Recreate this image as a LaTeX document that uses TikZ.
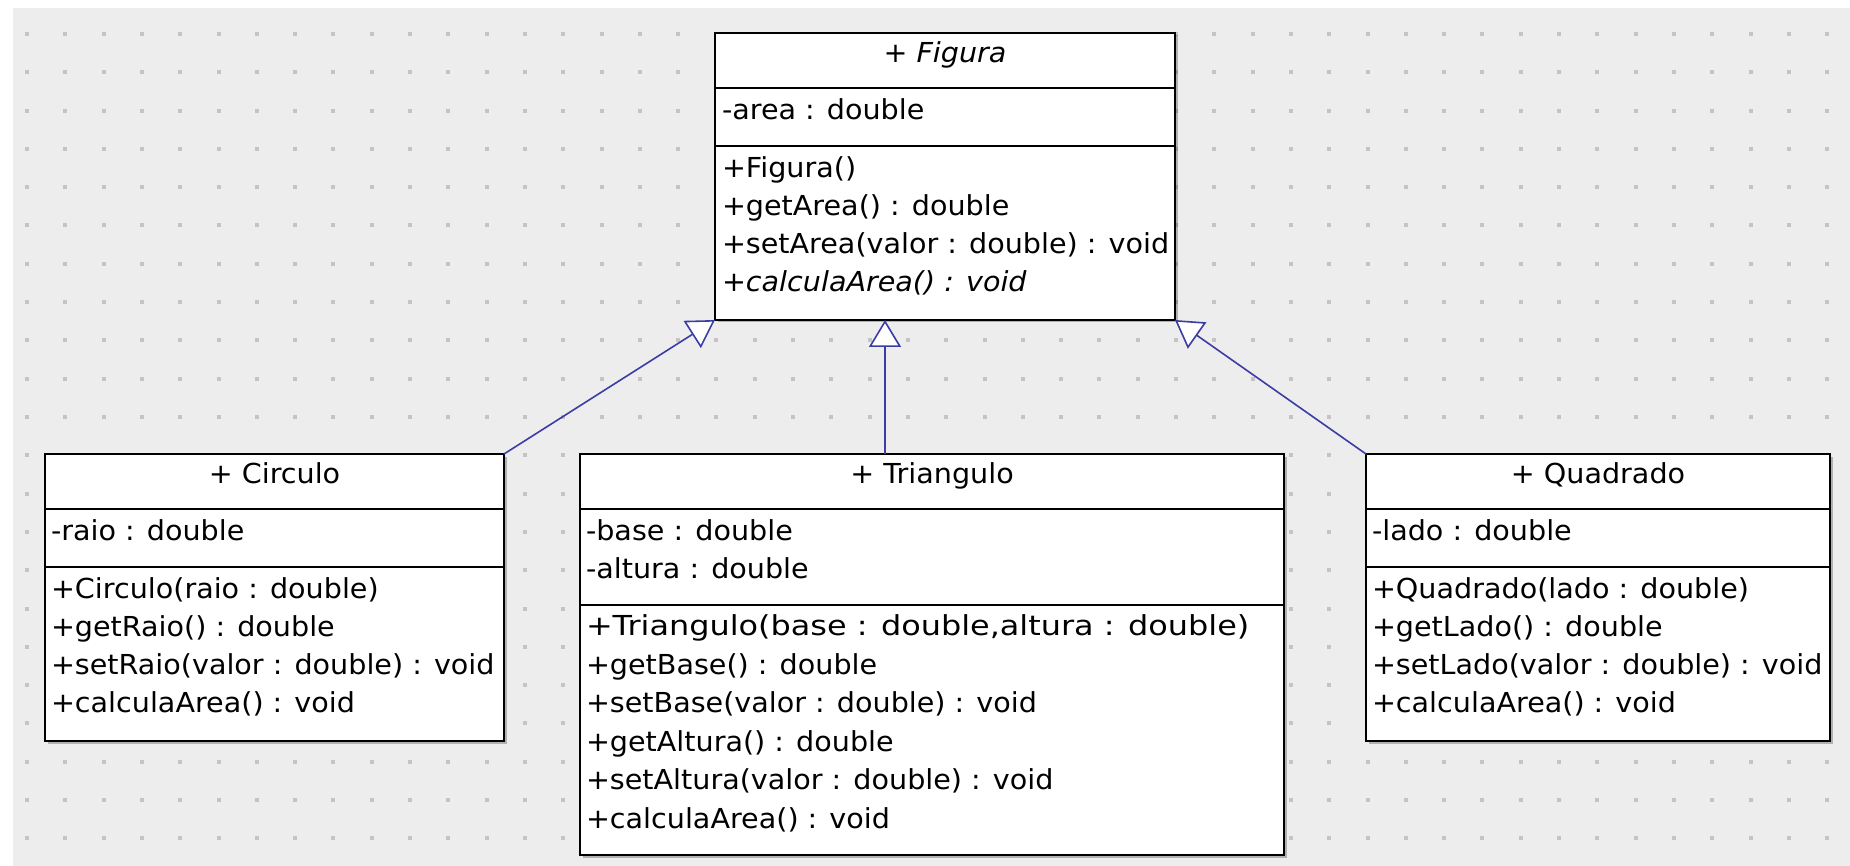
\documentclass[tikz,border=0pt]{standalone}
\usepackage{fontspec}
\setmainfont{DejaVu Sans}
% class member font, slightly widened
\newfontfamily\umlfont[FakeStretch=1.04]{DejaVu Sans}
% the long constructor signature is set more loosely
\newfontfamily\umlwidefont[FakeStretch=1.16]{DejaVu Sans}
\usetikzlibrary{arrows.meta,shadows}

\definecolor{canvas}{HTML}{EDEDED}
\definecolor{griddot}{HTML}{C4C4C4}
\definecolor{inherit}{RGB}{60,60,165}

\tikzset{
  classbox/.style={draw=black, line width=2pt, fill=white, inner sep=0pt, outer sep=0pt,
    drop shadow={shadow xshift=2.5pt, shadow yshift=-2.5pt, fill=black, opacity=0.25}},
  compsep/.style={draw=black, line width=2pt},
  member/.style={anchor=base west, inner sep=0pt, outer sep=0pt},
  classname/.style={anchor=base, inner sep=0pt, outer sep=0pt},
  generalization/.style={draw=inherit, line width=1.6pt,
    -{Triangle[length=27pt, width=32pt, fill=white, line width=1.6pt]}},
}

\begin{document}
\begin{tikzpicture}[x=1pt, y={(0pt,-1pt)}, font={\umlfont\fontsize{27.5}{33}\selectfont}]
\useasboundingbox (0,0) rectangle (1850,866);
\fill[white] (0,0) rectangle (1850,866);
% drawing canvas with its dot grid
\fill[canvas] (13,8) rectangle (1850,866);
\foreach \i in {0,...,47}
  \foreach \j in {0,...,21}
    \fill[griddot] ({25+38.3*\i},{32+38.3*\j}) rectangle ++(4,4);

% ---------- Figura (abstract) ----------
\node[classbox, minimum width=460pt, minimum height=287pt] (fig) at (945,176.5) {};
\draw[compsep] (fig.west |- 0,88) -- (fig.east |- 0,88);
\draw[compsep] (fig.west |- 0,146) -- (fig.east |- 0,146);
\node[classname] (fig-name) at (945,63) {\itshape + Figura};
\node[member] (fig-a1) at (722,120) {-area : double};
\node[member] (fig-m1) at (722,178) {+Figura()};
\node[member] (fig-m2) at (722,216) {+getArea() : double};
\node[member] (fig-m3) at (722,254) {+setArea(valor : double) : void};
\node[member] (fig-m4) at (722,292) {\itshape +calculaArea() : void};

% ---------- Circulo ----------
\node[classbox, minimum width=459pt, minimum height=287pt] (cir) at (274.5,597.5) {};
\draw[compsep] (cir.west |- 0,509) -- (cir.east |- 0,509);
\draw[compsep] (cir.west |- 0,567) -- (cir.east |- 0,567);
\node[classname] (cir-name) at (274.5,483) {+ Circulo};
\node[member] (cir-a1) at (51,540) {-raio : double};
\node[member] (cir-m1) at (51,598) {+Circulo(raio : double)};
\node[member] (cir-m2) at (51,636) {+getRaio() : double};
\node[member] (cir-m3) at (51,674) {+setRaio(valor : double) : void};
\node[member] (cir-m4) at (51,712) {+calculaArea() : void};

% ---------- Triangulo ----------
\node[classbox, minimum width=704pt, minimum height=401pt] (tri) at (932,654.5) {};
\draw[compsep] (tri.west |- 0,509) -- (tri.east |- 0,509);
\draw[compsep] (tri.west |- 0,605) -- (tri.east |- 0,605);
\node[classname] (tri-name) at (932,483) {+ Triangulo};
\node[member] (tri-a1) at (586,540) {-base : double};
\node[member] (tri-a2) at (586,578.5) {-altura : double};
\node[member, font={\umlwidefont\fontsize{27.5}{33}\selectfont}] (tri-m1) at (586,635.5)
  {+Triangulo(base : double,altura : double)};
\node[member] (tri-m2) at (586,674) {+getBase() : double};
\node[member] (tri-m3) at (586,712.5) {+setBase(valor : double) : void};
\node[member] (tri-m4) at (586,751) {+getAltura() : double};
\node[member] (tri-m5) at (586,789.5) {+setAltura(valor : double) : void};
\node[member] (tri-m6) at (586,828) {+calculaArea() : void};

% ---------- Quadrado ----------
\node[classbox, minimum width=464pt, minimum height=287pt] (qua) at (1598,597.5) {};
\draw[compsep] (qua.west |- 0,509) -- (qua.east |- 0,509);
\draw[compsep] (qua.west |- 0,567) -- (qua.east |- 0,567);
\node[classname] (qua-name) at (1598,483) {+ Quadrado};
\node[member] (qua-a1) at (1372,540) {-lado : double};
\node[member] (qua-m1) at (1372,598) {+Quadrado(lado : double)};
\node[member] (qua-m2) at (1372,636) {+getLado() : double};
\node[member] (qua-m3) at (1372,674) {+setLado(valor : double) : void};
\node[member] (qua-m4) at (1372,712) {+calculaArea() : void};

% ---------- generalizations ----------
\draw[generalization] (cir.north east) -- (fig.south west);
\draw[generalization] (tri.north -| 885,0) -- (fig.south -| 885,0);
\draw[generalization] (qua.north west) -- (fig.south east);
\end{tikzpicture}
\end{document}
